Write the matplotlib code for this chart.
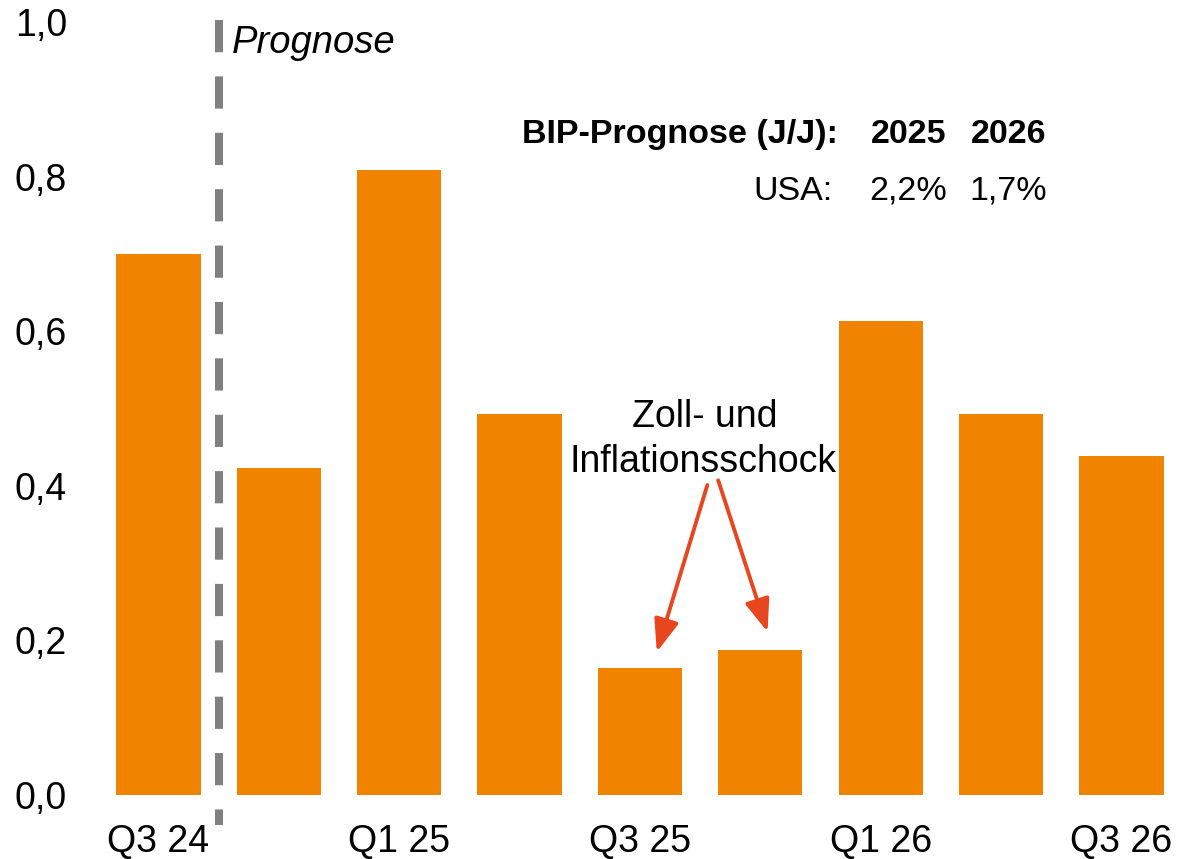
import matplotlib.pyplot as plt

plt.rcParams['font.family'] = ['Liberation Sans', 'DejaVu Sans']

# Daten
quartale = ['Q3 24', 'Q4 24', 'Q1 25', 'Q2 25', 'Q3 25', 'Q4 25', 'Q1 26', 'Q2 26', 'Q3 26']
werte = [0.70, 0.423, 0.808, 0.493, 0.164, 0.187, 0.613, 0.493, 0.438]
y_ticks = [0.0, 0.2, 0.4, 0.6, 0.8, 1.0]
tabelle_kopf = ['BIP-Prognose (J/J):', '2025', '2026']
tabelle_usa = ['USA:', '2,2%', '1,7%']

orange = '#F08300'
pfeil_farbe = '#E8461E'

fig = plt.figure(figsize=(11.78, 8.59), dpi=100)
ax = fig.add_axes([0.0936, 0.0745, 0.8993, 0.900])

x = list(range(len(quartale)))
ax.bar(x, werte, width=0.7, color=orange)

ax.set_xlim(-0.4, 8.4)
ax.set_ylim(0, 1.0)

# Achsen
for s in ax.spines.values():
    s.set_visible(False)
ax.set_xticks(x[::2])
ax.set_xticklabels(quartale[::2])
ax.set_yticks(y_ticks)
ax.set_yticklabels([f'{v:.1f}'.replace('.', ',') for v in y_ticks])
ax.tick_params(axis='both', length=0, labelsize=27)
ax.tick_params(axis='x', pad=21)
ax.tick_params(axis='y', pad=31)

# Prognose-Linie
ax.plot([0.5, 0.5], [1.0026, -0.0388], color='#808080', lw=5.8,
        dashes=(4, 3), clip_on=False)
ax.text(0.61, 0.96, 'Prognose', fontsize=27.5, style='italic',
        ha='left', va='baseline')

# BIP-Tabelle
x_spalten = [5.645, 6.55, 7.38]
for xs, t in zip(x_spalten, tabelle_kopf):
    ax.text(xs, 0.8435, t, fontsize=24.5, fontweight='bold', ha='right', va='baseline')
x_spalten2 = [5.60, 6.55, 7.38]
for xs, t in zip(x_spalten2, tabelle_usa):
    ax.text(xs, 0.7697, t, fontsize=24.5, ha='right', va='baseline')

# Annotation
ax.text(4.54, 0.476, 'Zoll- und', fontsize=27, ha='center', va='baseline')
ax.text(4.52, 0.418, 'Inflationsschock', fontsize=27, ha='center', va='baseline')
pfeil = dict(arrowstyle='-|>,head_length=1.1,head_width=0.42', color=pfeil_farbe,
             lw=2.8, mutation_scale=18, shrinkA=0, shrinkB=0)
ax.annotate('', xy=(4.14, werte[4] + 0.021), xytext=(4.56, 0.401), arrowprops=pfeil)
ax.annotate('', xy=(5.06, werte[5] + 0.024), xytext=(4.65, 0.407), arrowprops=pfeil)

plt.savefig('out.png', dpi=100)
